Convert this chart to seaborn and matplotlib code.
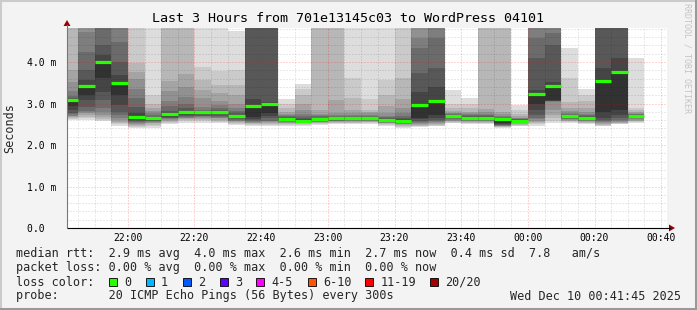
import numpy as np
import pandas as pd
import matplotlib
matplotlib.use("Agg")
import matplotlib.pyplot as plt
import matplotlib.dates as mdates
from matplotlib.lines import Line2D
from matplotlib.patches import Polygon, Rectangle
import seaborn as sns

# ---------------- data (milliseconds) ----------------
interval_starts = pd.date_range("2025-12-09 21:40", periods=35, freq="5min")

# sorted ping values per 5-minute interval (rank 1 = fastest ... rank 20 = slowest)
ping01 = [2.60, 2.60, 2.58, 2.47, 2.40, 2.42, 2.50, 2.54, 2.54, 2.53, 2.49, 2.46, 2.47, 2.46, 2.47, 2.49, 2.50, 2.50, 2.51, 2.46, 2.42, 2.43, 2.45, 2.52, 2.50, 2.50, 2.42, 2.45, 2.46, 2.53, 2.54, 2.50, 2.45, 2.50, 2.52]
ping02 = [2.62, 2.64, 2.61, 2.50, 2.44, 2.46, 2.53, 2.57, 2.57, 2.56, 2.51, 2.48, 2.49, 2.48, 2.49, 2.51, 2.52, 2.52, 2.53, 2.48, 2.44, 2.45, 2.47, 2.54, 2.52, 2.52, 2.43, 2.47, 2.50, 2.58, 2.56, 2.52, 2.47, 2.51, 2.55]
ping03 = [2.65, 2.68, 2.63, 2.52, 2.47, 2.49, 2.56, 2.60, 2.60, 2.59, 2.53, 2.50, 2.51, 2.50, 2.51, 2.53, 2.54, 2.54, 2.55, 2.50, 2.46, 2.47, 2.49, 2.56, 2.54, 2.54, 2.44, 2.49, 2.53, 2.64, 2.58, 2.54, 2.49, 2.52, 2.57]
ping04 = [2.67, 2.72, 2.67, 2.56, 2.49, 2.52, 2.58, 2.62, 2.62, 2.61, 2.55, 2.52, 2.53, 2.52, 2.52, 2.54, 2.55, 2.56, 2.56, 2.52, 2.48, 2.49, 2.51, 2.58, 2.55, 2.56, 2.45, 2.50, 2.56, 2.72, 2.59, 2.55, 2.51, 2.54, 2.58]
ping05 = [2.69, 2.76, 2.72, 2.60, 2.51, 2.54, 2.60, 2.64, 2.65, 2.64, 2.57, 2.54, 2.55, 2.54, 2.53, 2.55, 2.57, 2.57, 2.58, 2.53, 2.50, 2.51, 2.53, 2.59, 2.57, 2.57, 2.46, 2.52, 2.59, 2.84, 2.60, 2.57, 2.53, 2.56, 2.60]
ping06 = [2.71, 2.79, 2.79, 2.64, 2.54, 2.56, 2.62, 2.66, 2.67, 2.66, 2.59, 2.56, 2.57, 2.55, 2.54, 2.56, 2.58, 2.59, 2.59, 2.54, 2.51, 2.53, 2.55, 2.60, 2.58, 2.59, 2.47, 2.53, 2.62, 3.04, 2.62, 2.58, 2.55, 2.58, 2.62]
ping07 = [2.74, 2.82, 2.88, 2.72, 2.56, 2.58, 2.64, 2.68, 2.69, 2.68, 2.60, 2.58, 2.59, 2.57, 2.55, 2.57, 2.59, 2.60, 2.60, 2.55, 2.53, 2.55, 2.57, 2.62, 2.60, 2.60, 2.48, 2.54, 2.66, 3.05, 2.63, 2.60, 2.57, 2.60, 2.64]
ping08 = [2.78, 2.92, 3.09, 2.79, 2.58, 2.59, 2.66, 2.70, 2.71, 2.71, 2.62, 2.60, 2.64, 2.58, 2.56, 2.58, 2.60, 2.61, 2.61, 2.56, 2.54, 2.58, 2.60, 2.64, 2.61, 2.61, 2.49, 2.55, 2.72, 3.06, 2.64, 2.61, 2.60, 2.64, 2.65]
ping09 = [2.84, 3.08, 3.28, 2.96, 2.60, 2.60, 2.68, 2.73, 2.74, 2.74, 2.64, 2.62, 2.70, 2.60, 2.57, 2.59, 2.61, 2.62, 2.62, 2.57, 2.55, 2.62, 2.64, 2.66, 2.62, 2.62, 2.50, 2.56, 2.84, 3.07, 2.65, 2.62, 2.66, 2.72, 2.66]
ping10 = [2.93, 3.21, 3.61, 3.21, 2.63, 2.62, 2.71, 2.76, 2.77, 2.77, 2.66, 2.68, 2.77, 2.61, 2.58, 2.60, 2.62, 2.64, 2.64, 2.58, 2.57, 2.66, 2.72, 2.68, 2.64, 2.64, 2.52, 2.57, 3.00, 3.08, 2.67, 2.64, 2.80, 2.84, 2.68]
ping11 = [3.08, 3.42, 4.01, 3.50, 2.68, 2.64, 2.75, 2.80, 2.80, 2.80, 2.69, 2.94, 2.99, 2.63, 2.59, 2.62, 2.64, 2.66, 2.66, 2.60, 2.59, 2.96, 3.07, 2.70, 2.66, 2.66, 2.62, 2.59, 3.23, 3.42, 2.69, 2.66, 3.55, 3.77, 2.70]
ping12 = [3.10, 3.57, 4.17, 3.69, 2.76, 2.66, 2.78, 2.83, 2.81, 2.82, 2.72, 3.12, 3.03, 2.66, 2.62, 2.64, 2.66, 2.67, 2.67, 2.62, 2.62, 3.28, 3.40, 2.72, 2.68, 2.68, 2.64, 2.61, 3.33, 3.52, 2.71, 2.68, 3.85, 4.09, 2.72]
ping13 = [3.13, 3.81, 4.41, 4.01, 2.92, 2.68, 2.83, 2.88, 2.83, 2.85, 2.76, 5.00, 5.10, 2.68, 2.65, 2.66, 2.67, 2.68, 2.68, 2.64, 2.66, 3.73, 3.85, 2.73, 2.70, 2.70, 2.66, 2.62, 4.09, 4.41, 2.73, 2.70, 5.10, 5.20, 2.73]
ping14 = [3.18, 4.25, 5.00, 4.49, 3.13, 2.72, 2.95, 3.00, 2.85, 2.90, 2.82, 5.20, 5.30, 2.70, 2.69, 2.69, 2.70, 2.70, 2.70, 2.67, 2.70, 4.33, 4.57, 2.74, 2.72, 2.72, 2.68, 2.63, 4.57, 4.69, 2.75, 2.72, 5.40, 5.50, 2.74]
ping15 = [3.30, 4.73, 5.30, 4.95, 3.36, 2.76, 3.05, 3.15, 2.92, 2.96, 2.90, 5.40, 5.50, 2.72, 2.75, 2.72, 2.73, 2.72, 2.72, 2.71, 2.78, 4.57, 5.20, 2.76, 2.74, 2.75, 2.71, 2.64, 5.10, 5.10, 2.78, 2.75, 5.70, 5.80, 2.75]
ping16 = [3.53, 5.10, 5.60, 5.30, 3.60, 2.82, 3.30, 3.40, 3.13, 3.05, 2.98, 5.70, 5.80, 2.75, 2.85, 2.75, 2.77, 2.78, 2.76, 2.78, 2.88, 5.20, 5.50, 2.78, 2.76, 2.80, 2.75, 2.66, 5.40, 5.40, 2.82, 2.80, 6.00, 6.10, 2.77]
ping17 = [3.80, 5.40, 5.90, 5.60, 3.77, 2.90, 3.55, 3.70, 3.33, 3.25, 3.20, 6.00, 6.10, 2.80, 3.00, 2.85, 3.08, 2.84, 2.80, 2.95, 3.12, 5.50, 5.80, 2.82, 2.80, 2.87, 2.80, 2.70, 5.70, 5.70, 2.90, 2.88, 6.30, 6.40, 2.80]
ping18 = [5.30, 5.70, 6.20, 5.90, 3.97, 3.00, 5.20, 5.30, 3.57, 3.45, 3.45, 6.40, 6.50, 2.88, 3.20, 5.50, 5.40, 3.13, 2.84, 3.20, 3.61, 5.80, 6.20, 2.88, 2.88, 5.50, 5.50, 2.75, 6.00, 6.00, 3.04, 3.05, 6.70, 6.80, 2.84]
ping19 = [5.70, 6.00, 6.60, 6.30, 5.00, 3.20, 5.50, 5.60, 3.88, 3.78, 3.80, 6.90, 7.00, 2.98, 3.35, 5.80, 5.70, 3.62, 3.12, 3.57, 5.40, 6.20, 6.60, 3.00, 3.00, 5.80, 5.80, 2.85, 6.40, 6.40, 3.61, 3.20, 7.10, 7.20, 2.88]
ping20 = [6.20, 6.50, 7.10, 6.80, 5.50, 5.60, 6.00, 6.20, 6.00, 5.90, 4.74, 7.50, 7.60, 3.10, 3.48, 6.20, 6.10, 6.00, 6.00, 6.00, 6.00, 6.80, 7.20, 3.33, 3.13, 6.10, 6.20, 2.97, 7.00, 7.00, 4.33, 3.34, 7.60, 7.80, 4.09]

median_ms = [3.08, 3.42, 4.01, 3.50, 2.68, 2.64, 2.75, 2.80, 2.80, 2.80, 2.69, 2.94, 2.99, 2.63, 2.59, 2.62, 2.64, 2.66, 2.66, 2.60, 2.59, 2.96, 3.07, 2.70, 2.66, 2.66, 2.62, 2.59, 3.23, 3.42, 2.69, 2.66, 3.55, 3.77, 2.70]

xtick_labels = ["22:00", "22:20", "22:40", "23:00", "23:20", "23:40", "00:00", "00:20", "00:40"]
xtick_times = pd.to_datetime(["2025-12-09 22:00", "2025-12-09 22:20", "2025-12-09 22:40",
                              "2025-12-09 23:00", "2025-12-09 23:20", "2025-12-09 23:40",
                              "2025-12-10 00:00", "2025-12-10 00:20", "2025-12-10 00:40"])
ytick_values = [0, 1, 2, 3, 4]
ytick_labels = ["0.0  ", "1.0 m", "2.0 m", "3.0 m", "4.0 m"]

loss_labels = ["0", "1", "2", "3", "4-5", "6-10", "11-19", "20/20"]
loss_colors = ["#26ff00", "#00b8ff", "#0059ff", "#5e00ff", "#ff00ff", "#ff5500", "#ff0000", "#a10000"]

title = "Last 3 Hours from 701e13145c03 to WordPress 04101"
legend_rtt = "median rtt:  2.9 ms avg  4.0 ms max  2.6 ms min  2.7 ms now  0.4 ms sd  7.8   am/s"
legend_loss = "packet loss: 0.00 % avg  0.00 % max  0.00 % min  0.00 % now"
legend_probe = "probe:       20 ICMP Echo Pings (56 Bytes) every 300s"
stamp = "Wed Dec 10 00:41:45 2025"

view_start = pd.Timestamp("2025-12-09 21:41:45")
view_end = pd.Timestamp("2025-12-10 00:41:45")
y_top = 4.82

# ---------------- figure ----------------
sns.set_theme(style="white")
plt.rcParams["font.family"] = ["DejaVu Sans Mono", "DejaVu Sans"]

W, H = 697, 310
fig = plt.figure(figsize=(W / 100, H / 100), dpi=100)
fig.patch.set_facecolor("#f3f3f3")


def P(x, y):
    return (x / W, 1 - y / H)


ax = fig.add_axes([67 / W, (H - 228) / H, 600 / W, 200 / H])
ax.set_facecolor("white")

pings = np.vstack([ping01, ping02, ping03, ping04, ping05, ping06, ping07, ping08, ping09, ping10,
                   ping11, ping12, ping13, ping14, ping15, ping16, ping17, ping18, ping19, ping20])
x0 = mdates.date2num(interval_starts)
step = 5.0 / 1440.0
x_edges = np.append(x0, x0[-1] + step)

# smoke: symmetric pairs of pings, darker towards the middle (step areas, no seams)
half = pings.shape[0] // 2
for i in range(half):
    g = int(190 / half * (half - (i + 1))) + 50
    col = "#%02x%02x%02x" % (g, g, g)
    lo = np.append(pings[i], pings[i][-1])
    hi = np.append(pings[-1 - i], pings[-1 - i][-1])
    ax.fill_between(x_edges, lo, hi, step="post", color=col, linewidth=0, zorder=1)

# median line per interval (seaborn)
med_df = pd.DataFrame({
    "time": np.concatenate([x0, x0 + step]),
    "median": np.concatenate([median_ms, median_ms]),
    "interval": np.concatenate([np.arange(len(x0)), np.arange(len(x0))]),
})
sns.lineplot(data=med_df, x="time", y="median", units="interval", estimator=None,
             color=loss_colors[0], linewidth=2.3, ax=ax, legend=False, zorder=4,
             solid_capstyle="butt")

ax.set_xlim(mdates.date2num(view_start), mdates.date2num(view_end))
ax.set_ylim(0, y_top)
ax.set_xlabel("")
ax.set_ylabel("")

ax.set_xticks(mdates.date2num(xtick_times))
ax.set_xticklabels(xtick_labels)
ax.xaxis.set_minor_locator(mdates.MinuteLocator(byminute=range(0, 60, 5)))
ax.set_yticks(ytick_values)
ax.set_yticklabels(ytick_labels)
ax.set_yticks(np.arange(0, y_top, 0.2), minor=True)

ax.tick_params(axis="both", which="major", labelsize=7, length=4, width=0.7,
               direction="inout", color="#444444", labelcolor="#000000")
ax.tick_params(axis="both", which="minor", length=2, width=0.7, direction="inout",
               color="#888888")
ax.tick_params(axis="x", which="major", pad=1.5)
ax.tick_params(axis="y", which="major", pad=6)

ax.set_axisbelow(False)
ax.grid(which="minor", color="black", alpha=0.17, linestyle=(0, (1, 2)), linewidth=0.72)
ax.grid(which="major", color="red", alpha=0.33, linestyle=(0, (1, 2)), linewidth=0.72)

for s in ax.spines.values():
    s.set_visible(False)

# axes lines with arrows
fig.add_artist(Line2D([67 / W, 670 / W], [1 - 228 / H, 1 - 228 / H], color="black", lw=0.8))
fig.add_artist(Line2D([67 / W, 67 / W], [1 - 228 / H, 1 - 25 / H], color="#777777", lw=0.8))
fig.add_artist(Polygon([P(669, 224.5), P(675, 228), P(669, 231.5)], closed=True,
                       facecolor="#9b0000", edgecolor="none", transform=fig.transFigure))
fig.add_artist(Polygon([P(63.5, 26), P(67, 20), P(70.5, 26)], closed=True,
                       facecolor="#9b0000", edgecolor="none", transform=fig.transFigure))

# texts
fig.text(*P(347.5, 19), title, ha="center", va="center", fontsize=9.6, color="black")
fig.text(*P(10, 128), "Seconds", ha="center", va="center", rotation=90, fontsize=8.5)
fig.text(*P(687, 3), "RRDTOOL / TOBI OETIKER", ha="center", va="top", rotation=270,
         fontsize=6, color="#c4c4c4")

fig.text(*P(16, 254), legend_rtt, ha="left", va="center", fontsize=8.5)
fig.text(*P(16, 268), legend_loss, ha="left", va="center", fontsize=8.5)
fig.text(*P(16, 282), "loss color:", ha="left", va="center", fontsize=8.5)
box_x = [108.5, 145.8, 182.5, 219.6, 256.4, 307.6, 365.3, 430.0]
for bx, lab, col in zip(box_x, loss_labels, loss_colors):
    fig.add_artist(Rectangle(P(bx, 286), 8 / W, 8 / H, transform=fig.transFigure,
                             facecolor=col, edgecolor="black", linewidth=0.6))
    fig.text(*P(bx + 15.3, 282), lab, ha="left", va="center", fontsize=8.5)
fig.text(*P(16, 296), legend_probe, ha="left", va="center", fontsize=8.5)
fig.text(*P(681, 296), stamp, ha="right", va="center", fontsize=8.5)

# 3d-ish frame
fig.add_artist(Line2D([0, 1], [1 - 1 / H, 1 - 1 / H], color="#cbcbcb", lw=1.5))
fig.add_artist(Line2D([1 / W, 1 / W], [0, 1], color="#cbcbcb", lw=1.5))
fig.add_artist(Line2D([0, 1], [1.5 / H, 1.5 / H], color="#999999", lw=2.2))
fig.add_artist(Line2D([1 - 1.5 / W, 1 - 1.5 / W], [0, 1], color="#999999", lw=2.2))

fig.savefig("out.png", dpi=100, facecolor=fig.get_facecolor())
